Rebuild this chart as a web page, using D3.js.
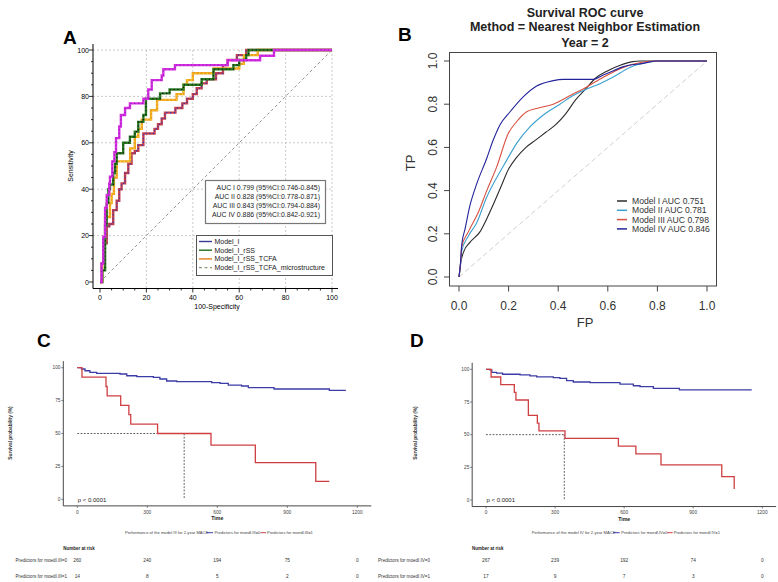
<!DOCTYPE html>
<html><head><meta charset="utf-8">
<script src="https://cdn.jsdelivr.net/npm/d3@7/dist/d3.min.js"></script>
<style>body{margin:0;background:#fff}svg{display:block;font-family:"Liberation Sans",Arial,sans-serif}</style>
</head><body><svg id="c" width="778" height="582"></svg>
<script>
// ================= DATA =================
// Panel A (ROC, MedCalc style) : x = 100-Specificity, y = Sensitivity (step points: jump at x to y)
const aTicks = [0, 20, 40, 60, 80, 100];
const aLegend = ["Model_I", "Model_I_rSS", "Model_I_rSS_TCFA", "Model_I_rSS_TCFA_microstructure"];
const aAucText = ["AUC I 0.799 (95%CI:0.746-0.845)", "AUC II 0.828 (95%CI:0.778-0.871)",
                  "AUC III 0.843 (95%CI:0.794-0.884)", "AUC IV 0.886 (95%CI:0.842-0.921)"];
const aM1x = [0,0.7,1.4,2.9,4,5.7,7.2,8.3,9.3,10.8,12.2,13.6,15,16.5,18.7,23.5,25,26.6,28,32.5,35.5,37.5,40,41.7,43.8,46,50,53,55,59,63,100];
const aM1y = [0,8,16.7,24,25,31,35,40,42.5,47,51,55.5,56.5,59,64,66,68,70.5,73,75,77,79,81,83.5,85.6,87.4,90,93.5,95.7,97.8,100,100];
const aM2x = [0,1,2.2,2.9,3.6,4.3,5.7,6.5,7.2,10,12.9,15,16.5,18.7,19.8,25.9,30,36,43.8,48.9,57.5,60,63,64,100];
const aM2y = [0,5,24.5,34,40,42,47,51,55.5,60,62.6,64.8,69,72,79,81.3,83,85,87.4,91.7,93.5,95.7,97.8,100,100];
const aM3x = [0,1,1.4,2.2,4.3,5,6,7.2,13,15,16.5,18,22,24.6,33,36,37.5,40,49,60,62,68,100];
const aM3y = [0,8,16.7,28,34,38,45,52,57.6,62.6,66,70,74,78.5,81,85,87,90,92,94,97.8,100,100];
const aM4x = [0,0.7,1.4,2.2,2.9,4,4.3,5.3,6.2,6.9,8.3,9,10.8,12.9,18.7,20.8,22.3,26.6,27.3,32.3,55,69,75,100];
const aM4y = [0,8,19.5,32,37.5,42.5,45.4,52,56,62,67,72,75,77,79,83,87,89,91.7,93.5,95.6,97.5,100,100];

// Panel B (survival ROC)
const bTitle = ["Survival ROC curve", "Method = Nearest Neighbor Estimation", "Year = 2"];
const bTicks = [0, 0.2, 0.4, 0.6, 0.8, 1.0];
const bLegend = ["Model I AUC 0.751", "Model II AUC 0.781", "Model III AUC 0.798", "Model IV AUC 0.846"];
const bM1fp = [0,.006,.02,.044,.085,.112,.14,.17,.2,.23,.27,.31,.35,.39,.43,.47,.51,.55,.6,.65,.7,.73,1];
const bM1tp = [0,.06,.12,.16,.21,.27,.34,.42,.5,.55,.6,.635,.67,.705,.755,.82,.87,.92,.955,.98,.997,1,1];
const bM2fp = [0,.006,.011,.038,.071,.112,.152,.192,.233,.286,.34,.407,.46,.515,.568,.622,.689,.77,.81,1];
const bM2tp = [0,.05,.12,.19,.25,.37,.46,.54,.62,.695,.75,.80,.84,.87,.895,.926,.97,.995,1,1];
const bM3fp = [0,.006,.011,.038,.078,.112,.152,.199,.233,.273,.313,.38,.448,.515,.582,.663,.743,.8,1];
const bM3tp = [0,.06,.14,.21,.30,.40,.51,.665,.72,.765,.78,.80,.84,.88,.925,.97,.995,1,1];
const bM4fp = [0,.005,.011,.024,.044,.071,.112,.138,.165,.206,.26,.313,.38,.42,.542,.582,.623,.663,.743,.797,1];
const bM4tp = [0,.05,.15,.22,.33,.43,.55,.634,.704,.765,.835,.884,.909,.915,.915,.935,.955,.974,.989,1,1];

// Panels C / D (Kaplan-Meier)
const kmXTicks = [0, 300, 600, 900, 1200];
const kmYTicks = [0, 25, 50, 75, 100];
const cLow_t = [0,18,33,54,83,183,212,255,326,354,383,426,576,612,647,704,733,843,1080,1151];
const cLow_s = [100,99,97.7,96.4,95.7,95.2,93.9,93.2,92.7,91.4,89.9,89.4,88.6,88.1,86.8,86.1,84.8,83.8,82.8,82.8];
const cHigh_t = [0,20,123,128,186,221,229,344,573,763,1022,1080];
const cHigh_s = [100,92.9,85.7,78.6,71.4,64.3,57.1,50,41.2,27.9,13.6,13.6];
const cMedian = 458;
const cRiskLow = [260, 240, 194, 75, 0];
const cRiskHigh = [14, 8, 5, 2, 0];
const cLabels = ["Performance of the model III for 2-year MACE", "Predictors for moedl.III=0", "Predictors for moedl.III=1"];
const dLow_t = [0,17,25,46,72,148,191,220,292,321,350,379,452,582,640,669,727,840,1154];
const dLow_s = [100,99.5,97.7,97,96.2,95.7,94.9,94.2,93.6,93.1,91.3,90.3,89.8,88.7,87.4,86.7,85.4,84.2,84.2];
const dHigh_t = [0,22,64,123,130,184,223,230,343,575,651,760,1024,1078];
const dHigh_s = [100,94.1,88.2,82.4,76.5,64.7,58.8,52.9,47.1,41.2,35.3,26.8,17.9,8.4];
const dMedian = 340;
const dRiskLow = [267, 239, 192, 74, 0];
const dRiskHigh = [17, 9, 7, 3, 0];
const dLabels = ["Performance of the model IV for 2-year MACE", "Predictors for moedl.IV=0", "Predictors for moedl.IV=1"];

// ================= DRAW =================
const svg = d3.select("#c");
const zip = (xs, ys) => xs.map((x, i) => [x, ys[i]]);

function panelLabel(t, x, y) {
  svg.append("text").attr("x", x).attr("y", y).attr("font-size", 19).attr("font-weight", "bold").text(t);
}

// ---------- Panel A ----------
(function () {
  const g = svg.append("g");
  const x = d3.scaleLinear().domain([0, 100]).range([100, 332]);
  const y = d3.scaleLinear().domain([0, 100]).range([282, 50]);
  const axX = 93, axY = 288.5;
  // grid
  g.selectAll(".gv").data(aTicks.slice(1)).join("line")
    .attr("x1", d => x(d)).attr("x2", d => x(d)).attr("y1", y(100)).attr("y2", axY)
    .attr("stroke", "#b5b5b5").attr("stroke-width", 0.7).attr("stroke-dasharray", "2,2");
  g.selectAll(".gh").data(aTicks.slice(1)).join("line")
    .attr("y1", d => y(d)).attr("y2", d => y(d)).attr("x1", axX).attr("x2", x(100))
    .attr("stroke", "#b5b5b5").attr("stroke-width", 0.7).attr("stroke-dasharray", "2,2");
  // diagonal
  g.append("line").attr("x1", x(0)).attr("y1", y(0)).attr("x2", x(100)).attr("y2", y(100))
    .attr("stroke", "#8a7b75").attr("stroke-width", 0.8).attr("stroke-dasharray", "3,2.5");
  // curves
  const line = d3.line().x(d => x(d[0])).y(d => y(d[1])).curve(d3.curveStepAfter);
  const curves = [
    { d: zip(aM1x, aM1y), c: "#c2404f", m: "#3535b0" },
    { d: zip(aM3x, aM3y), c: "#f0a020", m: "#f5e030" },
    { d: zip(aM2x, aM2y), c: "#2a7a22", m: "#111" },
    { d: zip(aM4x, aM4y), c: "#d82ee0", m: "#8a20c0" }
  ];
  curves.forEach(cv => {
    g.append("path").attr("d", line(cv.d)).attr("fill", "none").attr("stroke", cv.c).attr("stroke-width", 2.4);
    g.append("path").attr("d", line(cv.d)).attr("fill", "none").attr("stroke", cv.m).attr("stroke-width", 1.1)
      .attr("stroke-dasharray", "1.2,2.6");
  });
  // axes
  g.append("line").attr("x1", axX).attr("x2", axX).attr("y1", 44).attr("y2", axY).attr("stroke", "#000").attr("stroke-width", 1);
  g.append("line").attr("x1", axX).attr("x2", 338).attr("y1", axY).attr("y2", axY).attr("stroke", "#000").attr("stroke-width", 1);
  const minor = d3.range(0, 101, 5);
  g.selectAll(".ty").data(minor).join("line")
    .attr("x1", axX).attr("x2", d => axX - (d % 20 === 0 ? 4 : 2)).attr("y1", d => y(d)).attr("y2", d => y(d))
    .attr("stroke", "#000").attr("stroke-width", 0.8);
  g.selectAll(".tx").data(minor).join("line")
    .attr("y1", axY).attr("y2", d => axY + (d % 20 === 0 ? 4 : 2)).attr("x1", d => x(d)).attr("x2", d => x(d))
    .attr("stroke", "#000").attr("stroke-width", 0.8);
  g.selectAll(".ly").data(aTicks).join("text")
    .attr("x", 89).attr("y", d => y(d) + 2.5).attr("text-anchor", "end").attr("font-size", 7).text(d => d);
  g.selectAll(".lx").data(aTicks).join("text")
    .attr("x", d => x(d)).attr("y", 299.5).attr("text-anchor", "middle").attr("font-size", 7).text(d => d);
  g.append("text").attr("transform", "translate(72.5,166) rotate(-90)").attr("text-anchor", "middle")
    .attr("font-size", 7).text("Sensitivity");
  g.append("text").attr("x", 217).attr("y", 309).attr("text-anchor", "middle").attr("font-size", 7).text("100-Specificity");
  // AUC box
  g.append("rect").attr("x", 205.5).attr("y", 180.5).attr("width", 120).attr("height", 43)
    .attr("fill", "#fff").attr("stroke", "#777").attr("stroke-width", 1.2);
  g.selectAll(".auc").data(aAucText).join("text")
    .attr("x", 320).attr("y", (d, i) => 189.5 + i * 9).attr("text-anchor", "end").attr("font-size", 6.9)
    .attr("fill", "#222").text(d => d);
  // legend box
  g.append("rect").attr("x", 196.5).attr("y", 235.5).attr("width", 136).attr("height", 40)
    .attr("fill", "#fff").attr("stroke", "#555").attr("stroke-width", 1);
  const legCol = ["#3a3a9a", "#1f6f1f", "#e58020", "#8d9c7a"];
  aLegend.forEach((t, i) => {
    const yy = 241.5 + i * 8.7;
    g.append("line").attr("x1", 199).attr("x2", 212).attr("y1", yy).attr("y2", yy)
      .attr("stroke", legCol[i]).attr("stroke-width", 1.4).attr("stroke-dasharray", i === 3 ? "3,2.5" : null);
    g.append("text").attr("x", 214.5).attr("y", yy + 2.4).attr("font-size", 7).attr("fill", "#222").text(t);
  });
  panelLabel("A", 63, 44);
})();

// ---------- Panel B ----------
(function () {
  const g = svg.append("g");
  const x = d3.scaleLinear().domain([0, 1]).range([459, 707]);
  const y = d3.scaleLinear().domain([0, 1]).range([277, 61]);
  bTitle.forEach((t, i) => g.append("text").attr("x", 585).attr("y", [16.5, 31, 46.5][i])
    .attr("text-anchor", "middle").attr("font-size", 12.5).attr("font-weight", "bold").attr("fill", "#222").text(t));
  g.append("rect").attr("x", 449.5).attr("y", 52.5).attr("width", 267).attr("height", 233.5)
    .attr("fill", "none").attr("stroke", "#444").attr("stroke-width", 1);
  g.append("line").attr("x1", x(0)).attr("y1", y(0)).attr("x2", x(1)).attr("y2", y(1))
    .attr("stroke", "#d0d0d0").attr("stroke-width", 1).attr("stroke-dasharray", "5,3");
  const line = d3.line().x(d => x(d[0])).y(d => y(d[1])).curve(d3.curveMonotoneX);
  const cols = ["#2b2b2b", "#3aa0d0", "#d9503f", "#23239a"];
  const data = [zip(bM1fp, bM1tp), zip(bM2fp, bM2tp), zip(bM3fp, bM3tp), zip(bM4fp, bM4tp)];
  data.forEach((d, i) => g.append("path").attr("d", line(d)).attr("fill", "none")
    .attr("stroke", cols[i]).attr("stroke-width", 1.1));
  g.selectAll(".tx").data(bTicks).join("line").attr("x1", d => x(d)).attr("x2", d => x(d))
    .attr("y1", 286).attr("y2", 291.5).attr("stroke", "#444");
  g.selectAll(".lx").data(bTicks).join("text").attr("x", d => x(d)).attr("y", 310)
    .attr("text-anchor", "middle").attr("font-size", 12).attr("fill", "#333").text(d => d.toFixed(1));
  g.selectAll(".ty").data(bTicks).join("line").attr("y1", d => y(d)).attr("y2", d => y(d))
    .attr("x1", 449.5).attr("x2", 444).attr("stroke", "#444");
  g.selectAll(".ly").data(bTicks).join("text")
    .attr("transform", d => `translate(437,${y(d)}) rotate(-90)`)
    .attr("text-anchor", "middle").attr("font-size", 12).attr("fill", "#333").text(d => d.toFixed(1));
  g.append("text").attr("transform", "translate(415,163) rotate(-90)").attr("text-anchor", "middle")
    .attr("font-size", 13).attr("fill", "#333").text("TP");
  g.append("text").attr("x", 585).attr("y", 327).attr("text-anchor", "middle")
    .attr("font-size", 13).attr("fill", "#333").text("FP");
  bLegend.forEach((t, i) => {
    const yy = 201 + i * 9.3;
    g.append("line").attr("x1", 617).attr("x2", 627).attr("y1", yy).attr("y2", yy)
      .attr("stroke", cols[i]).attr("stroke-width", 1.5);
    g.append("text").attr("x", 632).attr("y", yy + 3).attr("font-size", 8.6).attr("fill", "#333").text(t);
  });
  panelLabel("B", 398, 41);
})();

// ---------- Panels C & D ----------
function kmPanel(o) {
  const g = svg.append("g");
  const x = d3.scaleLinear().domain([0, 1200]).range([o.x0, o.x1]);
  const y = d3.scaleLinear().domain([0, 100]).range([o.y0, o.y1]);
  const left = x(-60), right = x(1260), top = y(105), bot = y(-5);
  g.append("line").attr("x1", left).attr("x2", left).attr("y1", top).attr("y2", bot).attr("stroke", "#333").attr("stroke-width", 0.9);
  g.append("line").attr("x1", left).attr("x2", right).attr("y1", bot).attr("y2", bot).attr("stroke", "#333").attr("stroke-width", 0.9);
  g.selectAll(".ty").data(kmYTicks).join("line").attr("x1", left).attr("x2", left - 2)
    .attr("y1", d => y(d)).attr("y2", d => y(d)).attr("stroke", "#333").attr("stroke-width", 0.6);
  g.selectAll(".ly").data(kmYTicks).join("text").attr("x", left - 2.8).attr("y", d => y(d) + 1.7)
    .attr("text-anchor", "end").attr("font-size", 4.8).attr("fill", "#444").text(d => d);
  g.selectAll(".tx").data(kmXTicks).join("line").attr("y1", bot).attr("y2", bot + 2)
    .attr("x1", d => x(d)).attr("x2", d => x(d)).attr("stroke", "#333").attr("stroke-width", 0.6);
  g.selectAll(".lx").data(kmXTicks).join("text").attr("x", d => x(d)).attr("y", bot + 7.8)
    .attr("text-anchor", "middle").attr("font-size", 4.8).attr("fill", "#444").text(d => d);
  g.append("text").attr("x", x(600)).attr("y", bot + 14.5).attr("text-anchor", "middle")
    .attr("font-size", 5.2).attr("font-weight", "bold").attr("fill", "#222").text("Time");
  g.append("text").attr("transform", `translate(${o.ylabX},433) rotate(-90)`).attr("text-anchor", "middle")
    .attr("font-size", 4.8).attr("font-weight", "bold").attr("fill", "#333").text("Survival probability (%)");
  // median lines
  g.append("line").attr("x1", x(0)).attr("x2", x(o.median)).attr("y1", y(50)).attr("y2", y(50))
    .attr("stroke", "#333").attr("stroke-width", 0.8).attr("stroke-dasharray", "1.8,1.5");
  g.append("line").attr("x1", x(o.median)).attr("x2", x(o.median)).attr("y1", y(50)).attr("y2", y(0))
    .attr("stroke", "#333").attr("stroke-width", 0.8).attr("stroke-dasharray", "1.8,1.5");
  const line = d3.line().x(d => x(d[0])).y(d => y(d[1])).curve(d3.curveStepAfter);
  g.append("path").attr("d", line(o.low)).attr("fill", "none").attr("stroke", "#3c3ca6").attr("stroke-width", 1.3);
  g.append("path").attr("d", line(o.high)).attr("fill", "none").attr("stroke", "#cf3f42").attr("stroke-width", 1.3);
  g.append("text").attr("x", x(0) + 0.5).attr("y", y(0) + 2.2).attr("font-size", 6).attr("fill", "#222").text("p < 0.0001");
  // legend
  const ly = 532.7;
  g.append("text").attr("x", o.legX).attr("y", ly + 1.4).attr("font-size", 4.1).attr("fill", "#444").text(o.labels[0]);
  g.append("line").attr("x1", o.legX + 81.5).attr("x2", o.legX + 88).attr("y1", ly).attr("y2", ly).attr("stroke", "#3c3ca6").attr("stroke-width", 1);
  g.append("text").attr("x", o.legX + 89.5).attr("y", ly + 1.4).attr("font-size", 4.1).attr("fill", "#444").text(o.labels[1]);
  g.append("line").attr("x1", o.legX + 135.5).attr("x2", o.legX + 141).attr("y1", ly).attr("y2", ly).attr("stroke", "#cf3f42").attr("stroke-width", 1);
  g.append("text").attr("x", o.legX + 142).attr("y", ly + 1.4).attr("font-size", 4.1).attr("fill", "#444").text(o.labels[2]);
  // risk table
  g.append("text").attr("x", x(0) - 14).attr("y", 550).attr("font-size", 4.5).attr("font-weight", "bold").attr("fill", "#222").text("Number at risk");
  [o.riskLow, o.riskHigh].forEach((row, r) => {
    const yy = 561.5 + r * 16;
    g.append("text").attr("x", o.rowLabX).attr("y", yy).attr("text-anchor", "end").attr("font-size", 4.6)
      .attr("fill", "#333").text(o.labels[r + 1]);
    g.selectAll(null).data(row).join("text").attr("x", (d, i) => x(kmXTicks[i])).attr("y", yy)
      .attr("text-anchor", "middle").attr("font-size", 4.8).attr("fill", "#333").text(d => d);
  });
}
kmPanel({ x0: 77.3, x1: 357.3, y0: 499.3, y1: 367.7, ylabX: 11.5, median: cMedian,
  low: zip(cLow_t, cLow_s), high: zip(cHigh_t, cHigh_s), riskLow: cRiskLow, riskHigh: cRiskHigh,
  labels: cLabels, legX: 125, rowLabX: 67 });
kmPanel({ x0: 486, x1: 762.3, y0: 500, y1: 369.3, ylabX: 416.5, median: dMedian,
  low: zip(dLow_t, dLow_s), high: zip(dHigh_t, dHigh_s), riskLow: dRiskLow, riskHigh: dRiskHigh,
  labels: dLabels, legX: 531.7, rowLabX: 430 });
panelLabel("C", 37, 347);
panelLabel("D", 410, 347);
</script></body></html>
